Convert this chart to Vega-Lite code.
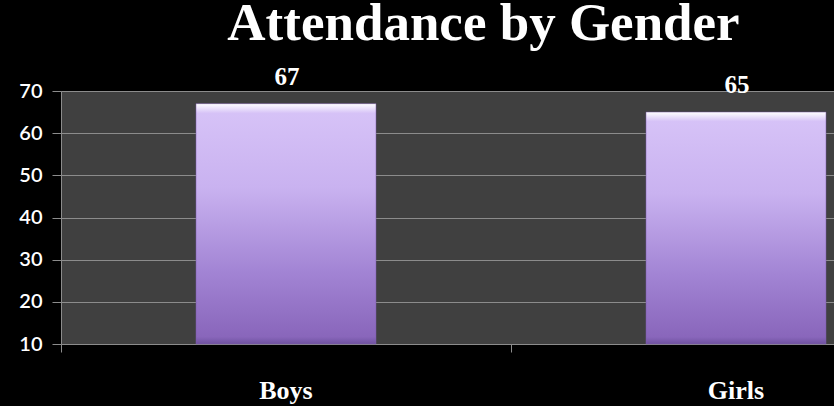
{
  "$schema": "https://vega.github.io/schema/vega-lite/v6.json",
  "autosize": {"type": "none"},
  "width": 773,
  "height": 253,
  "padding": {"left": 61, "top": 91, "right": 0, "bottom": 62},
  "background": "#000000",
  "title": {
    "text": "Attendance by Gender",
    "font": "Liberation Serif",
    "fontSize": 53,
    "fontWeight": "bold",
    "color": "#ffffff",
    "anchor": "middle",
    "dx": 36,
    "baseline": "alphabetic",
    "offset": -28
  },
  "config": {
    "view": {"fill": "#404040", "stroke": null}
  },
  "data": {
    "values": [
      {"gender": "Boys", "attendance": 67},
      {"gender": "Girls", "attendance": 65}
    ]
  },
  "encoding": {
    "x": {
      "field": "gender",
      "type": "nominal",
      "sort": null,
      "scale": {"range": [0, 900], "paddingInner": 0.6, "paddingOuter": 0.3},
      "axis": {
        "title": null,
        "labelAngle": 0,
        "labelFont": "Liberation Serif",
        "labelFontWeight": "bold",
        "labelFontSize": 26,
        "labelColor": "#ffffff",
        "labelPadding": 46,
        "labelBaseline": "alphabetic",
        "bandPosition": -0.75,
        "ticks": true,
        "tickSize": 8,
        "tickColor": "#8c8c8c",
        "domainColor": "#8c8c8c",
        "grid": false
      }
    },
    "y": {
      "field": "attendance",
      "type": "quantitative",
      "scale": {"domain": [10, 70], "nice": false, "zero": false},
      "axis": {
        "title": null,
        "values": [10, 20, 30, 40, 50, 60, 70],
        "labelFont": "Lato",
        "labelFontSize": 20,
        "labelFontWeight": 600,
        "labelColor": "#ffffff",
        "labelPadding": 10,
        "tickSize": 9,
        "tickColor": "#8c8c8c",
        "domainColor": "#8c8c8c",
        "grid": true,
        "gridColor": "#8c8c8c",
        "gridWidth": 1
      }
    }
  },
  "layer": [
    {
      "mark": {
        "type": "bar",
        "stroke": "#7a5aa8",
        "strokeWidth": 0.5,
        "fill": {
          "gradient": "linear",
          "x1": 0, "y1": 0, "x2": 0, "y2": 1,
          "stops": [
            {"offset": 0, "color": "#ffffff"},
            {"offset": 0.04, "color": "#d6c2f7"},
            {"offset": 0.35, "color": "#c9b2f0"},
            {"offset": 0.7, "color": "#a284d4"},
            {"offset": 0.97, "color": "#8966bb"},
            {"offset": 1, "color": "#6f52a0"}
          ]
        }
      },
      "encoding": {
        "y2": {"datum": 10}
      }
    },
    {
      "mark": {
        "type": "text",
        "dy": -19,
        "dx": 1,
        "font": "Liberation Serif",
        "fontWeight": "bold",
        "fontSize": 25,
        "color": "#ffffff",
        "baseline": "alphabetic"
      },
      "encoding": {
        "text": {"field": "attendance", "type": "quantitative"}
      }
    }
  ]
}
